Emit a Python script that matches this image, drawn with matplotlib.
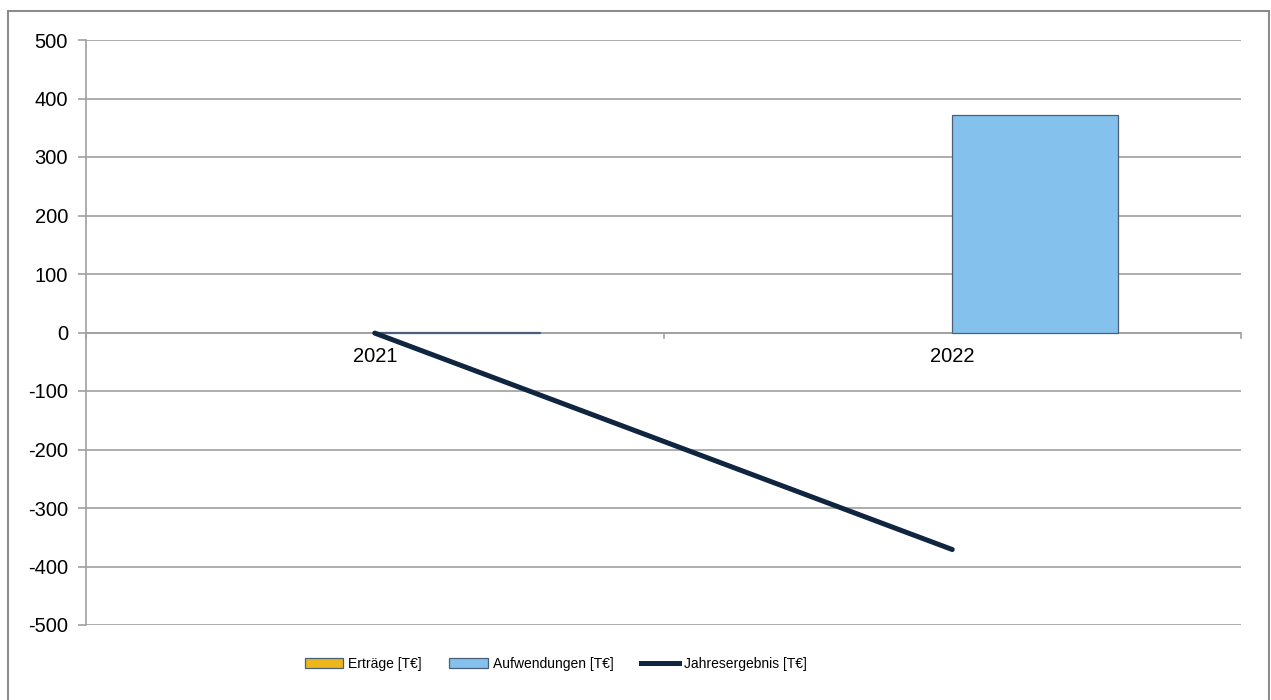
import numpy as np
import matplotlib.pyplot as plt
from matplotlib.patches import Rectangle
from matplotlib.lines import Line2D

plt.rcParams['font.family'] = ['Liberation Sans', 'DejaVu Sans']
plt.rcParams['axes.unicode_minus'] = False

# Werte in T€
years = ['2021', '2022']
ertraege = [0, 0]
aufwendungen = [1, 371]
jahresergebnis = [-1, -371]

col_ert = '#EBB71A'
col_auf = '#85C1ED'
col_line = '#0F2540'
col_edge = '#4A6078'
col_grid = '#A0A0A0'

fig = plt.figure(figsize=(12.71, 7.0), dpi=100)
W, H = 1271, 700
ax = fig.add_axes([86 / W, 1 - 625 / H, (1241 - 86) / W, (625 - 40) / H])

x = np.arange(len(years))
bw = 0.287


def edges(vals):
    # leere Balken ohne Rand zeichnen
    return [col_edge if v != 0 else 'none' for v in vals]


ax.bar(x - bw / 2, ertraege, bw, color=col_ert, edgecolor=edges(ertraege), linewidth=0.9, zorder=2)
ax.bar(x + bw / 2, aufwendungen, bw, color=col_auf, edgecolor=edges(aufwendungen), linewidth=0.9, zorder=2)
ax.plot(x, jahresergebnis, color=col_line, linewidth=3.6, solid_capstyle='round', zorder=3)

ax.set_xlim(-0.5, 1.5)
ax.set_ylim(-500, 500)
ax.set_yticks(np.arange(-500, 501, 100))
ax.yaxis.grid(True, color=col_grid, linewidth=1.2)
ax.set_axisbelow(True)

for s in ['top', 'right', 'bottom']:
    ax.spines[s].set_visible(False)
ax.spines['left'].set_color(col_grid)
ax.spines['left'].set_linewidth(1.2)

# Kategorieachse auf Höhe 0
ax.axhline(0, color=col_grid, linewidth=1.2, zorder=1)
ax.set_xticks([])
for xb in [-0.5, 0.5, 1.5]:
    ax.plot([xb, xb], [0, -10], color=col_grid, linewidth=1.2, clip_on=False, zorder=1)
for xi, lab in zip(x, years):
    ax.text(xi, -24, lab, ha='center', va='top', fontsize=14.5)

ax.tick_params(axis='y', length=6, color=col_grid, width=1.2, labelsize=14.5, pad=7)

handles = [
    Rectangle((0, 0), 1, 1, facecolor=col_ert, edgecolor=col_edge, linewidth=0.9),
    Rectangle((0, 0), 1, 1, facecolor=col_auf, edgecolor=col_edge, linewidth=0.9),
    Line2D([0], [0], color=col_line, linewidth=3.6),
]
fig.legend(handles, ['Erträge [T€]', 'Aufwendungen [T€]', 'Jahresergebnis [T€]'],
           loc='center', bbox_to_anchor=(556 / W, 1 - 664 / H), ncol=3, frameon=False,
           fontsize=10, handlelength=2.75, handleheight=0.65, handletextpad=0.35,
           columnspacing=2.0)

# Rahmen um das Diagramm
fig.patches.append(Rectangle((8 / W, -0.01), (1269 - 8) / W, 1.01 - 11 / H,
                             transform=fig.transFigure, fill=False,
                             edgecolor='#8C8C8C', linewidth=1.5))

fig.savefig('out.png', dpi=100)
